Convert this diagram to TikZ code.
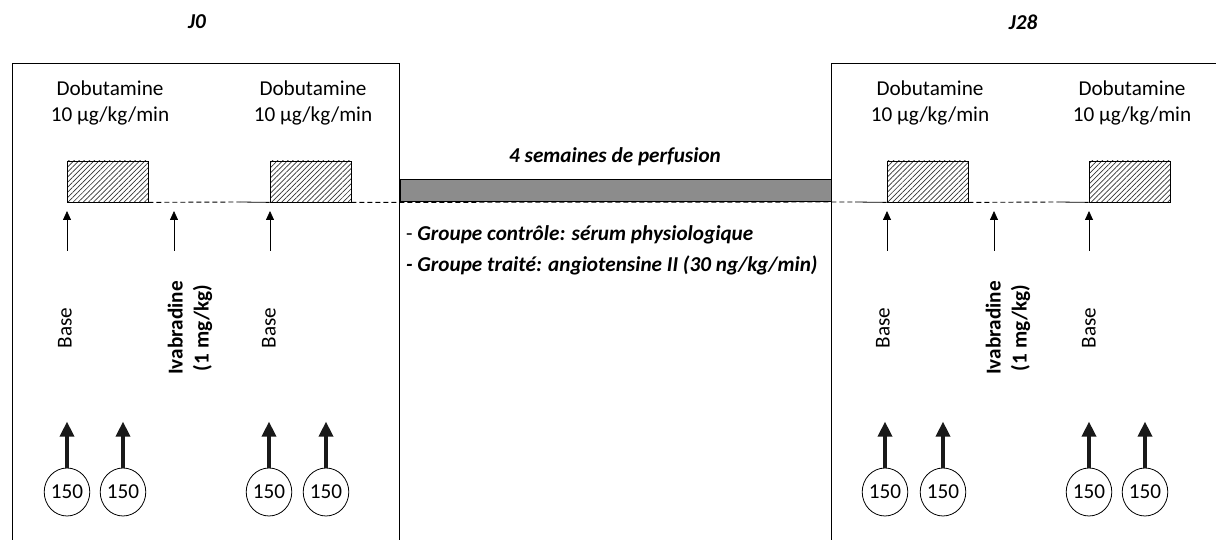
\documentclass[tikz,border=0pt]{standalone}
\usepackage{fontspec}
\setmainfont{Carlito}
\usetikzlibrary{positioning,arrows.meta,shapes.geometric,patterns.meta}
\tikzstyle{txt}=[font=\fontsize{21.2}{25.5}\selectfont, inner sep=0pt, align=center]
\tikzstyle{btxt}=[font=\fontsize{21.2}{25.5}\selectfont\bfseries\itshape, inner sep=0pt]
\tikzstyle{hbox}=[rectangle, draw=black, line width=0.8pt, minimum width=81pt,
                  minimum height=41pt, inner sep=0pt,
                  pattern={Lines[angle=45,distance=3.6pt,line width=0.7pt]}, pattern color=black!80]
\tikzstyle{dose}=[ellipse, draw=black, line width=0.8pt, minimum width=44pt, minimum height=48pt,
                  inner sep=0pt, font=\fontsize{21.2}{25.5}\selectfont]
\tikzstyle{vlab}=[txt, rotate=90]
\tikzstyle{tarrow}=[-{Triangle[length=9pt,width=8pt]}, line width=0.8pt]
\tikzstyle{barrow}=[-{Triangle[length=15pt,width=14pt]}, line width=3.5pt, black!90]
\tikzstyle{pline}=[-, line width=0.8pt]
\tikzstyle{dline}=[-, line width=0.9pt, dash pattern=on 5pt off 3pt]

\begin{document}
\begin{tikzpicture}[x=1pt,y=-1pt]
\useasboundingbox (0,0) rectangle (1216,540);

% day labels
\node (JZERO) [btxt] at (197,22) {J0};
\node (JEND) [btxt] at (1023,22) {J28};

% frames
 \draw[pline] (12,545) |- (399,63) -- (399,545);
 \draw[pline] (831,545) |- (1225,63);

% dobutamine labels
\node (DOBTA) [txt] at (110,103) {Dobutamine\\10 µg/kg/min};
\node (DOBTB) [txt] at (313,103) {Dobutamine\\10 µg/kg/min};
\node (DOBTC) [txt] at (930,103) {Dobutamine\\10 µg/kg/min};
\node (DOBTD) [txt] at (1132,103) {Dobutamine\\10 µg/kg/min};

% infusion blocks
\node (DOBA) [hbox] at (107.5,181.5) {};
\node (DOBB) [hbox] at (310.5,181.5) {};
\node (DOBC) [hbox] at (927.5,181.5) {};
\node (DOBD) [hbox] at (1129.5,181.5) {};

% perfusion bar
\node (PERF) [rectangle, draw=black, line width=0.8pt, fill=black!45, minimum width=431pt,
              minimum height=22pt, inner sep=0pt] at (615.5,190) {};
\node (PERFT) [btxt] at (615,157) {4 semaines de perfusion};

% time line
\coordinate (SA) at (240,202);
\coordinate (SB) at (855,202);
\coordinate (SC) at (1058,202);
 \draw[dline] (DOBA.south east) -- (SA);
 \draw[pline] (SA) -- (DOBB.south west);
 \draw[dline] (DOBB.south east) -- (SB);
 \draw[pline] (SB) -- (DOBC.south west);
 \draw[dline] (DOBC.south east) -- (SC);
 \draw[pline] (SC) -- (DOBD.south west);

% groups
\node (GRPA) [txt, anchor=west] at (406,235) {- \textbf{\textit{Groupe contrôle: sérum physiologique}}};
\node (GRPB) [btxt, anchor=west] at (406,265) {- Groupe traité: angiotensine II (30 ng/kg/min)};

% measurement points
\node (BASEA) [vlab] at (65,328) {Base};
\node (IVAA) [vlab, font=\fontsize{21.2}{26}\selectfont\bfseries] at (190,328) {Ivabradine\\(1 mg/kg)};
\node (BASEB) [vlab] at (269,328) {Base};
\node (BASEC) [vlab] at (883,328) {Base};
\node (IVAB) [vlab, font=\fontsize{21.2}{26}\selectfont\bfseries] at (1008,328) {Ivabradine\\(1 mg/kg)};
\node (BASED) [vlab] at (1089,328) {Base};

\coordinate (TA) at (67,251);  \coordinate (HA) at (67,211);
\coordinate (TB) at (174,251); \coordinate (HB) at (174,211);
\coordinate (TC) at (270,251); \coordinate (HC) at (270,211);
\coordinate (TD) at (887,251); \coordinate (HD) at (887,211);
\coordinate (TE) at (994,251); \coordinate (HE) at (994,211);
\coordinate (TF) at (1089,251); \coordinate (HF) at (1089,211);
 \draw[tarrow] (TA) -- (HA);
 \draw[tarrow] (TB) -- (HB);
 \draw[tarrow] (TC) -- (HC);
 \draw[tarrow] (TD) -- (HD);
 \draw[tarrow] (TE) -- (HE);
 \draw[tarrow] (TF) -- (HF);

% doses
\node (DA) [dose] at (67,492) {150};
\node (DB) [dose] at (123,492) {150};
\node (DC) [dose] at (269,492) {150};
\node (DD) [dose] at (326,492) {150};
\node (DE) [dose] at (885,492) {150};
\node (DF) [dose] at (943,492) {150};
\node (DG) [dose] at (1089,492) {150};
\node (DH) [dose] at (1145,492) {150};
 \draw[barrow] (DA.north) -- ++(0,-46);
 \draw[barrow] (DB.north) -- ++(0,-46);
 \draw[barrow] (DC.north) -- ++(0,-46);
 \draw[barrow] (DD.north) -- ++(0,-46);
 \draw[barrow] (DE.north) -- ++(0,-46);
 \draw[barrow] (DF.north) -- ++(0,-46);
 \draw[barrow] (DG.north) -- ++(0,-46);
 \draw[barrow] (DH.north) -- ++(0,-46);

\end{tikzpicture}
\end{document}
